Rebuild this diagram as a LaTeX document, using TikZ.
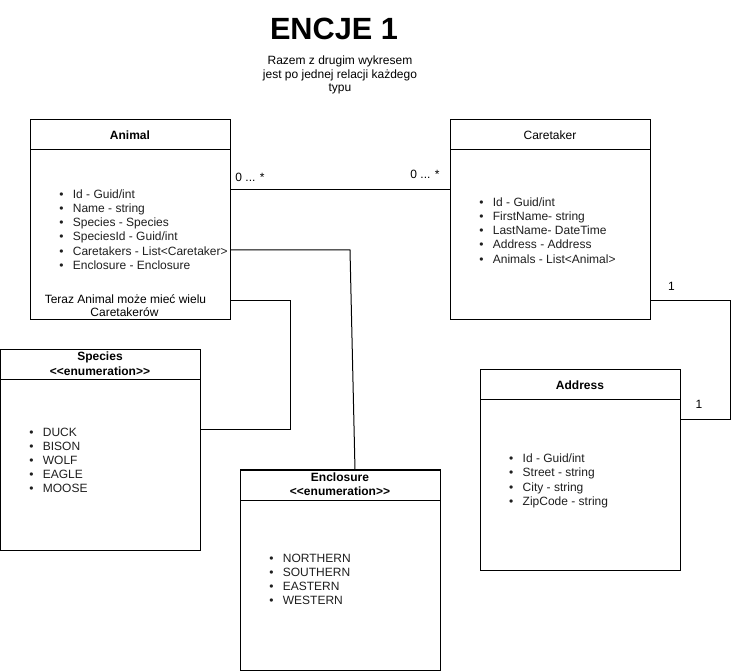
\documentclass[tikz,border=0pt]{standalone}
\usepackage{fontspec}
\setmainfont{Liberation Sans}
\begin{document}
\begin{tikzpicture}[x=1pt,y=-1pt,
  classbox/.style={draw, line width=1pt, minimum width=200pt, minimum height=200pt, inner sep=0pt, outer sep=0pt},
  hdr/.style={anchor=base, inner sep=0pt, font=\fontsize{12}{14}\selectfont\bfseries},
  hdrplain/.style={anchor=base, inner sep=0pt, font=\fontsize{12}{14}\selectfont},
  item/.style={anchor=base west, inner sep=0pt, font=\fontsize{12}{14}\selectfont, text=black!88},
  lbl/.style={anchor=base, inner sep=0pt, font=\fontsize{12}{14}\selectfont},
  conn/.style={line width=1pt},
  sep/.style={line width=1pt}]
\useasboundingbox (0,0) rectangle (732,671);
\fill[white] (0,0) rectangle (732,671);

% title
\node[anchor=base, inner sep=0pt, font=\fontsize{30.7}{34}\selectfont\bfseries] (title) at (334,40) {ENCJE 1};
\node[lbl] (sub1) at (340,65) {Razem z drugim wykresem};
\node[lbl] (sub2) at (340,78.5) {jest po jednej relacji każdego};
\node[lbl] (sub3) at (340,92) {typu};

% boxes
\node[classbox] (animal) at (130,220) {};
\node[classbox] (caretaker) at (550,220) {};
\node[classbox] (address) at (580,470) {};
\node[classbox] (species) at (100,450) {};
\node[classbox] (enclosure) at (340,570) {};

\foreach \b in {animal,caretaker,address,species,enclosure}
  \draw[sep] ([yshift=-30pt]\b.north west) -- ([yshift=-30pt]\b.north east);

% headers
\newcommand{\enumtag}{<\kern0pt<enumeration>\kern0pt>}
\node[hdr] (hA) at (130,139.3) {Animal};
\node[hdrplain] (hC) at (550,139.3) {Caretaker};
\node[hdr] (hAd) at (580,389.3) {Address};
\node[hdr] (hS1) at (100,361) {Species};
\node[hdr] (hS2) at (100,376) {\enumtag};
\node[hdr] (hE1) at (340,481.5) {Enclosure};
\node[hdr] (hE2) at (340,496) {\enumtag};

% lists
\newcommand{\bul}{\llap{•\hspace{9.4pt}}}
\foreach \t [count=\i] in {Id - Guid/int, Name - string, Species - Species, SpeciesId - Guid/int, Caretakers - List<Caretaker>, Enclosure - Enclosure}
  \node[item] (ai\i) at (72.7,{198.3+14.2*(\i-1)}) {\bul\t};
\foreach \t [count=\i] in {Id - Guid/int, FirstName- string, LastName- DateTime, Address - Address, Animals - List<Animal>}
  \node[item] (ci\i) at (492.7,{206.7+14.1*(\i-1)}) {\bul\t};
\foreach \t [count=\i] in {Id - Guid/int, Street - string, City - string, ZipCode - string}
  \node[item] (di\i) at (522.5,{463+14*(\i-1)}) {\bul\t};
\foreach \t [count=\i] in {DUCK, BISON, WOLF, EAGLE, MOOSE}
  \node[item] (si\i) at (42.7,{436+14.2*(\i-1)}) {\bul\t};
\foreach \t [count=\i] in {NORTHERN, SOUTHERN, EASTERN, WESTERN}
  \node[item] (ei\i) at (282.7,{562.3+14.2*(\i-1)}) {\bul\t};

% note
\node[lbl] (note1) at (125.5,303.3) {Teraz Animal może mieć wielu};
\node[lbl] (note2) at (124.5,316.7) {Caretakerów};

% connectors
\draw[conn] ([yshift=-70pt]animal.north east) -- ([yshift=-70pt]caretaker.north west);
\coordinate (bend1) at (350,250);
\draw[conn] ([yshift=-130pt]animal.north east) -- (bend1) -- ([xshift=15pt]enclosure.north);
\draw[conn] ([yshift=-181pt]animal.north east) -- ++(60,0) |- ([yshift=-80pt]species.north east);
\draw[conn] ([yshift=-181pt]caretaker.north east) -- ++(80,0) |- ([yshift=-50pt]address.north east);

% multiplicities
\node[lbl] (m1) at (250,182) {0 ... *};
\node[lbl] (m2) at (425,179) {0 ... *};
\node[lbl] (m3) at (671.5,291) {1};
\node[lbl] (m4) at (699,409) {1};
\end{tikzpicture}
\end{document}
